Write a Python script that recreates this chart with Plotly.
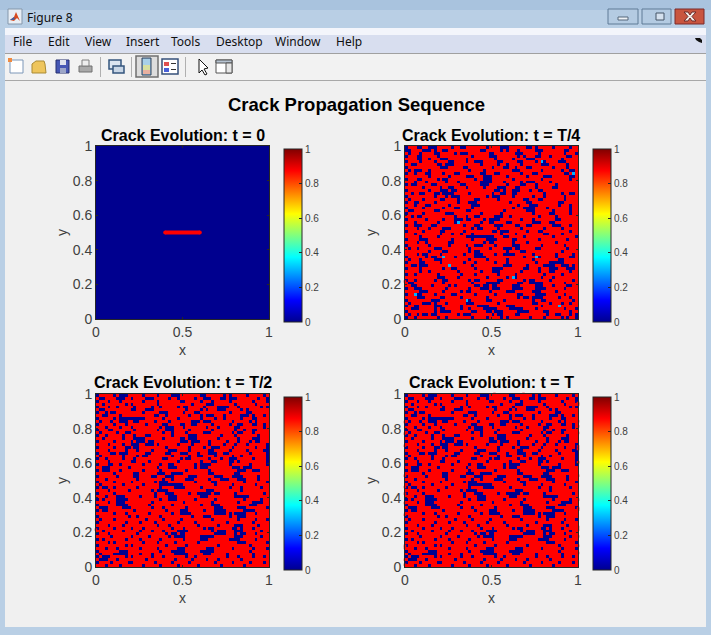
import plotly.graph_objects as go

W, H = 711, 635

# Damage fields, on a coarser 60x60 grid than the original.
# '#' = intact (0), '.' = cracked (about 0.875), 'c' = the few intermediate specks.
FIELD_T4 = [
"#...##..###.....#..##.......#....###......##.#.....#.....#..",
"##....###.#..##...........##.....#.#...#.....###.......##...",
".#...#....##.....#.###.......##.......###.....#........#...#",
"#...##.....#...........#.....###.......#.#...##...#.....##..",
"....##..#...###......#.........#.....#....###.........#.....",
"#....#....#....##....#..###.....##.....##....#.c#....###....",
"..##.......##.###.........#.....#..#....#......###......#...",
"#...........###.....##........#...##..#...##.......#....#...",
".#.###..#.............#....#.........###.......#......#..##.",
"#..#...##....#...##.......##...##.......#...##.........##.c.",
"........#......#.....###...###.....#......#.....###......##.",
"#...##.....#.##.........#..###.......#.........#.........#..",
"...#...#......#...#.......####....#.....#.###.....#.........",
"#.##.....##........##.....###......#....##...#......#.......",
"......#.....#..##....#.....#....###...##.....#.....##.......",
"#.......#...###.##.............##.#..###...#..##............#",
"..#..##...##.####.....#.......#..##..##.........#.....#..##.",
"#.........#...#.###.........#.###....#......#...#......#....",
".#....#.....##....#.....##......#........##...##.......#....",
"#..##.....#.......#...###...........#.....##.........##.....",
"...#...##......#.......###.............#...###.......#...#..",
"#.....#......#...##....#.............#...####....#.......#..",
".##.......##.........##...........#.......###......#.....#..",
"#.....#.......###.........#......#..........#.....##.....#..",
"..#.##...........#...#..##.....###..#.........#.....#.......",
"#......#.....#...###.##....#.####.......#...#.......##......",
"...#.......#.....#c.......#..##....##.......###...##........",
"#..###...##.........#...##.....###....##..##.......###...#..",
"....#...#....###.......#.##.....#.......#.......#.....#.....",
"#.....#.....##......#.........##.###......#...##.........#..",
"...#........#...#..#...#.........#....#.........##....#.....",
".....#.....#.........##########...##.....#.........#.......#",
"#....###........#......#....####.....##.......#.........#...",
"....#..#.......##..........#.##......#....#.........#.......",
"#.......#......#.....#..###....#.....###.......#.......#....",
".#..#.....###.........#......#....###.##.....##.........#...",
"........#....##.......#.##.........#....##............#.....",
"....#.##....#.......#...###....#..####......#.......#.....#.",
"#......#.##..c...#......####.............#...c#.....#....##.",
".#...#....###.........#.....#......#........#........##.....",
"#....##.....#.......#...#......#...#.........#....#####.....",
"..##.###.......c.......#..........###.....#.....####..###.#.",
"#....#.......#..##......#.....####.......##...#...###...###.",
".....#..#.........#.......#...###.......#.....#...##.....#..",
"#..#.......#.......#....#.......#.....#.........#.....#.....",
"...........###....#.........#......#.c#........#...#........",
"#..#......#..##.......#.##......##.......#.##.....#.......#.",
".##..........#.........#....#####......##..#####.......#.....",
"..##.....#.....#.#......##.##.##.....###.....###...#....##..",
"#..###........#.......#...###.###....####....####......#....",
".....###.....#.....#.##......#.....###......###.....#.......",
"#..c##....#.....##......#......#.......##....####......#....",
"....###.....##.....#........#..........#.##.####.....#...#..",
"#........###.........c#.....##....#.........#..##.........#.",
".#....###.#...#......###........#...........##....#...#..#..",
"#..##.....###......#.....####......###.........#.....c......",
"..###.....#.##.....#..#....#####....#####....#.........#...#",
"#.........#.####.......##...##.###.....####.....##.......#..",
".#..#.##.##.......#.###.......#.##....##.........#..##...#.#",
"#..#.......#..#........#....#....#.#.......#....#.....#.#..#",
]

FIELD_T2 = [
"#.....#.###.....#....#....###.......##......#.#.....#.....#.",
".##....###..#....###.....#..#.....#..###...##.###.......#..#",
"#...#...#.......#....#.......##.....#...#.....#.......#....#",
"..#.......#.#........#...........#....###.......#......#....",
"#...#..#.....#.....#..#.....#.##.....#....####...#.......#.#",
".##.........##...###...........#....#.#...###.....#.#.......",
"#..#.##.........#.....###.....#...##..........#.....##......",
"..##....#...........##..#.......#...#.###...#.....###.#...#.",
"#.....#.#########......#....#.......#....#..#.....#...##....",
".#...#..###..##.....#....#.......###.###.......#.....#.#....",
"#.....#...#......#.....##....##..##.....#.....#..##...##..#.",
"...#....#...#.........#.###...#.......#...#.....##........#.",
"#...##.......#.......#..###.....#.......#.......#..#..##....",
".#.....#..##...........#..#....#.....###.......#.##...#.....",
"#..#.....#...#...##.......#.....###........#....#.......#...",
"..#......#...####......#.....##.###.......#......#....###...",
"#.....#.....#.###.##.........###.###...#.....#...#...#.##...",
"....#....#..###..###.#......#....#.....#....#...#...#......#",
"#.....#...##.##.........#.......#....#..###....#.......#...#",
"....#.....#...#....#.....###....#......##.....#.....#.....##",
"#....##.###......##.....##...###...#...###..##.......#.....#",
".#.......#....#.##........#.....#..##....#.....#..#........#",
"#..#.....#...#.........##....#.##......#...#..###.....#....#",
"....#.......##....#.........#.......#...##....##.#.........#",
"#...##..#.......#.....#..##.......#.####......#......#.....#",
"..###......#.........#...###......#.###........###.###......",
"#.###...#.......#.....#........#.......#.........###..###...",
"......#......##......###..####.........##.......##..........",
"#......#.....##....##...###.....###......###...####.....#...",
"...#..........#........#..#....###.....#...###...###....#...",
"#.....#.....#.......#.###.........#.....##.........#.......#",
".#.......#......#.....########...........#.....#.......#....",
"#.##..#.......#.......#....####.....#.........#...#......#..",
"....#......#.......#.####.............###.........#.........",
"#.....#.............#...###.....#..#####.##.....#.........#.",
"...#...###.....#....#....###........###.........#####.......",
"#.#....####...........#..###......#......#.........#.....#..",
"....#..###.........#..........#.........#........#....####..",
"#......####.......#.......#.........#...###..........###....",
".###.....###.......#...#.......#.........###.....###.......#",
"#.##.........#..........#....###.....#...####......####.....",
"......#...#.......#.......#..####........####.#.####...#....",
"#..........#..#.......#..........#...###......#..###........",
".#....#..........#.....#.....#..........#........#.....#...#",
"#.........#....#....#.......#.....#..........#........#.....",
"....#....#...........#...#.........#......#.....###.....#...",
"#.....#.....#...#.........#...#......#.##......##.#...#.....",
"..#......#.....#...#...#....####........#.###...###......#..",
"#...#.........#.........#.##.##..........####...#.##...#.....",
".....#......#.....#......#.####.....#####.......###......#..",
"#.#.......#....#......#.......#.....###.......####.....#....",
"....#.#.........#....#.....#.......#.............###.......#",
"#.........#.#...........#......#..........#..........#......",
"...#...#.......#.....#......###.......###......#......#....#",
"#.......###...........#...#####.....#####............#......",
".#....#####....#...#.......#####.....###.....#........#.....",
"#.###.....#.#......#...#.......#..#..........#...#....#...#.",
".###...#.........#.........#.....#....#...#.......#.........",
"#....#.....##.......#.....#.....#........#.....#.....#....#.",
"...#....#.......#.....#.....#......#.......#.......#........",
]

CELL_VALUES = {"#": 0.0, ".": 0.875, "c": 0.3}
TITLES = ["Crack Evolution: t = 0", "Crack Evolution: t = T/4", "Crack Evolution: t = T/2", "Crack Evolution: t = T"]
FIG_TITLE = "Crack Propagation Sequence"
CRACK_X = [0.4, 0.6]
CRACK_Y = [0.5, 0.5]
XTICKS = [0, 0.5, 1]
XTICKTEXT = ["0", "0.5", "1"]
YTICKS = [0, 0.2, 0.4, 0.6, 0.8, 1]
YTICKTEXT = ["0", "0.2", "0.4", "0.6", "0.8", "1"]
# Red specks that poke out past the axes box in the reference.
SPECK_T4_Y = [0.217]
SPECK_T2_Y = [0.216]
SPECK_T_LEFT_Y = [.838, .771, .701, .528, .462, .424, .370, .302, .123, .110, .042, .013]
SPECK_T_RIGHT_Y = [.948, .938, .842, .813, .775, .697, .682, .605, .528, .389, .341, .331, .231, .216, .177, .123, .081]
SPECK_T_TOP_X = [.517, .685]
MENU = [("File", 11), ("Edit", 46), ("View", 83), ("Insert", 124), ("Tools", 169), ("Desktop", 214), ("Window", 273), ("Help", 334)]

JET = [[0, "rgb(0,0,143)"], [0.125, "rgb(0,0,255)"], [0.375, "rgb(0,255,255)"],
       [0.625, "rgb(255,255,0)"], [0.875, "rgb(255,0,0)"], [1, "rgb(128,0,0)"]]
FONT = "Liberation Sans, Arial, sans-serif"
INK = "#404040"
BOX = "#262626"


def px(x):
    return x / W


def py(y):
    return 1 - y / H


def to_grid(rows):
    n = len(rows)
    out = [[CELL_VALUES[c] for c in r.ljust(n, ".")[:n]] for r in rows]
    return out[::-1]


PANELS = [
    (96, 146, [[0.0]], 284),
    (405, 146, to_grid(FIELD_T4), 593),
    (96, 394, to_grid(FIELD_T2), 284),
    (405, 394, to_grid(FIELD_T2), 593),
]
SIZE = 173

fig = go.Figure()
layout = dict(
    width=W, height=H, autosize=False, margin=dict(l=0, r=0, t=0, b=0, pad=0, autoexpand=False),
    paper_bgcolor="#f0f0f0", plot_bgcolor="#f0f0f0", showlegend=False,
    font=dict(family=FONT, color=INK),
)
annotations, shapes = [], []


def rect(x0, y0, x1, y1, fill, line=None, lw=1):
    shapes.append(dict(type="rect", xref="paper", yref="paper", x0=px(x0), x1=px(x1), y0=py(y0), y1=py(y1),
                       fillcolor=fill, line=dict(color=line or fill, width=lw if line else 0), layer="below"))


def poly(points, fill, line=None, lw=1):
    d = "M" + " L".join(f"{px(a):.5f},{py(b):.5f}" for a, b in points) + " Z"
    shapes.append(dict(type="path", xref="paper", yref="paper", path=d, fillcolor=fill,
                       line=dict(color=line or fill, width=lw if line else 0), layer="below"))


def text(x, y, s, size, color="#000000", family=FONT, bold=False, anchor="center"):
    annotations.append(dict(xref="paper", yref="paper", x=px(x), y=py(y), text=f"<b>{s}</b>" if bold else s,
                            showarrow=False, xanchor=anchor, yanchor="middle",
                            font=dict(size=size, color=color, family=family)))


# Window chrome
rect(0, 0, 711, 635, "#b9cfe5")
rect(0, 0, 711, 10, "#a9c3de")
rect(5, 28, 706, 35, "#f3f5fb")
rect(5, 35, 706, 53, "#d8deef")
rect(5, 53, 706, 54, "#a0a0a0")
rect(5, 54, 706, 80, "#f2f2f2")
rect(5, 80, 706, 81, "#a8a8a8")
rect(5, 81, 706, 627, "#f0f0f0")

for x0, x1, fill in [(608, 638, "#b4cbe2"), (642, 671, "#b4cbe2"), (675, 704, "#c9553f")]:
    rect(x0, 9, x1, 24, fill, "#5f7a96" if fill != "#c9553f" else "#7a2a2a", 1)
rect(618, 17, 628, 20, "#eef2f6", "#55677a", 1)
rect(656, 13, 664, 20, "#d5e1ee", "#445566", 1)
poly([(684, 12), (688, 12), (690, 15), (692, 12), (696, 12), (692, 16.5), (696, 21), (692, 21), (690, 18), (688, 21), (684, 21), (688, 16.5)], "#f4ece8", "#6a2b2b", 1)
# Figure icon
rect(8, 9, 22, 24, "#e8eef5", "#8497ab", 1)
poly([(10, 20), (14, 17), (16, 12), (20, 21), (17, 18), (14, 21)], "#d8491e")
poly([(10, 20), (14, 17), (15, 19), (13, 20)], "#3a5fa8")
text(25, 17, "Figure 8", 12, "#101010", "Noto Sans", anchor="left")
for label, x in MENU:
    text(x, 41, label, 12, "#101010", "Noto Sans", anchor="left")
poly([(695, 38), (700, 38), (702, 40), (702, 43), (699, 42), (696, 40)], "#111111")

# Toolbar icons
rect(10, 60, 23, 73, "#ffffff", "#7d97b8")
rect(8, 58, 12, 62, "#f08a40")
poly([(32, 64), (36, 61), (44, 61), (45, 64), (46, 73), (32, 73)], "#eec55c", "#a98a35")
rect(56, 60, 69, 73, "#4657b4", "#27306e")
rect(60, 60, 66, 65, "#dfe3ee")
rect(60, 68, 66, 73, "#9da6c8")
rect(79, 66, 92, 72, "#a9a9a9", "#707070")
rect(82, 60, 89, 66, "#eeeeee", "#808080")
rect(109, 60, 121, 69, "#dbe5f1", "#35557e", 1.5)
rect(113, 66, 124, 73, "#c8d6e6", "#35557e", 1.5)
rect(136, 56, 158, 77, "#dddddd", "#707070", 1.5)
rect(142, 58, 151, 75, "#8fb5d6", "#32465f")
rect(143, 59, 150, 65, "#a8d0e8")
rect(143, 65, 150, 70, "#d8e0a0")
rect(143, 70, 150, 74, "#e8b0a0")
rect(162, 59, 178, 74, "#ffffff", "#36507a", 1.5)
rect(164, 62, 169, 66, "#e05050")
rect(164, 68, 169, 72, "#4860d8")
rect(171, 63, 176, 64, "#333333")
rect(171, 69, 176, 70, "#333333")
poly([(199, 59), (199, 73), (202, 70), (205, 75), (207, 74), (204, 69), (208, 68)], "#ffffff", "#111111")
rect(216, 60, 232, 73, "#ffffff", "#555555")
rect(216, 60, 232, 63, "#b7c4d2", "#555555")
rect(226, 63, 232, 73, "#e6e6e6", "#555555")
for x in (100, 131, 185):
    rect(x, 57, x + 1, 77, "#b0b0b0")

text(356, 104, FIG_TITLE, 18.5, bold=True)

for i, (left, top, z, bar_x) in enumerate(PANELS):
    k = "" if i == 0 else str(i + 1)
    n = len(z)
    fig.add_trace(go.Heatmap(
        z=z, x0=0.5 / n, dx=1 / n, y0=0.5 / n, dy=1 / n, xaxis="x" + k, yaxis="y" + k,
        zmin=0, zmax=1, colorscale=JET, zsmooth=False, hoverinfo="skip",
        colorbar=dict(x=px(bar_x), xref="paper", xanchor="left", y=py(top + 3 + SIZE), yref="paper", yanchor="bottom",
                      len=SIZE, lenmode="pixels", thickness=18, thicknessmode="pixels", xpad=0, ypad=0,
                      tickvals=[0, 0.2, 0.4, 0.6, 0.8, 1], ticktext=YTICKTEXT, ticks="inside", ticklen=3,
                      tickcolor=BOX, tickfont=dict(size=10, color=INK, family=FONT),
                      outlinecolor=BOX, outlinewidth=1),
    ))
    ax = dict(range=[0, 1], showgrid=False, zeroline=False, showline=True, linecolor=BOX, linewidth=1,
              mirror="ticks", ticks="inside", ticklen=2, tickcolor=BOX, tickfont=dict(size=14, color=INK, family=FONT),
              title_font=dict(size=14, color=INK, family=FONT))
    layout["xaxis" + k] = dict(ax, domain=[px(left), px(left + SIZE)], anchor="y" + k, tickvals=XTICKS,
                               ticktext=XTICKTEXT, title_text="x", title_standoff=6)
    layout["yaxis" + k] = dict(ax, domain=[py(top + SIZE), py(top)], anchor="x" + k, tickvals=YTICKS,
                               ticktext=YTICKTEXT, title_text="y", title_standoff=1)
    text(left + SIZE / 2, top - 11, TITLES[i], 16, bold=True)


def add_specks(xs, ys, k):
    fig.add_trace(go.Scatter(x=xs, y=ys, mode="markers", xaxis="x" + k, yaxis="y" + k, cliponaxis=False,
                             marker=dict(symbol="square", size=2.5, color="#ff0000", line=dict(width=0)),
                             hoverinfo="skip"))


fig.add_trace(go.Scatter(x=CRACK_X, y=CRACK_Y, mode="lines+markers", line=dict(color="#ff0000", width=4),
                         marker=dict(color="#ff0000", size=4), hoverinfo="skip"))
add_specks([0] * len(SPECK_T4_Y), SPECK_T4_Y, "2")
add_specks([0] * len(SPECK_T2_Y), SPECK_T2_Y, "3")
add_specks([0] * len(SPECK_T_LEFT_Y), SPECK_T_LEFT_Y, "4")
add_specks([1] * len(SPECK_T_RIGHT_Y), SPECK_T_RIGHT_Y, "4")
add_specks(SPECK_T_TOP_X, [1] * len(SPECK_T_TOP_X), "4")

layout["annotations"] = annotations
layout["shapes"] = shapes
fig.update_layout(**layout)
fig.write_html("out.html", config={"displayModeBar": False},
               post_script="document.body.style.margin='0';document.body.style.overflow='hidden';")
